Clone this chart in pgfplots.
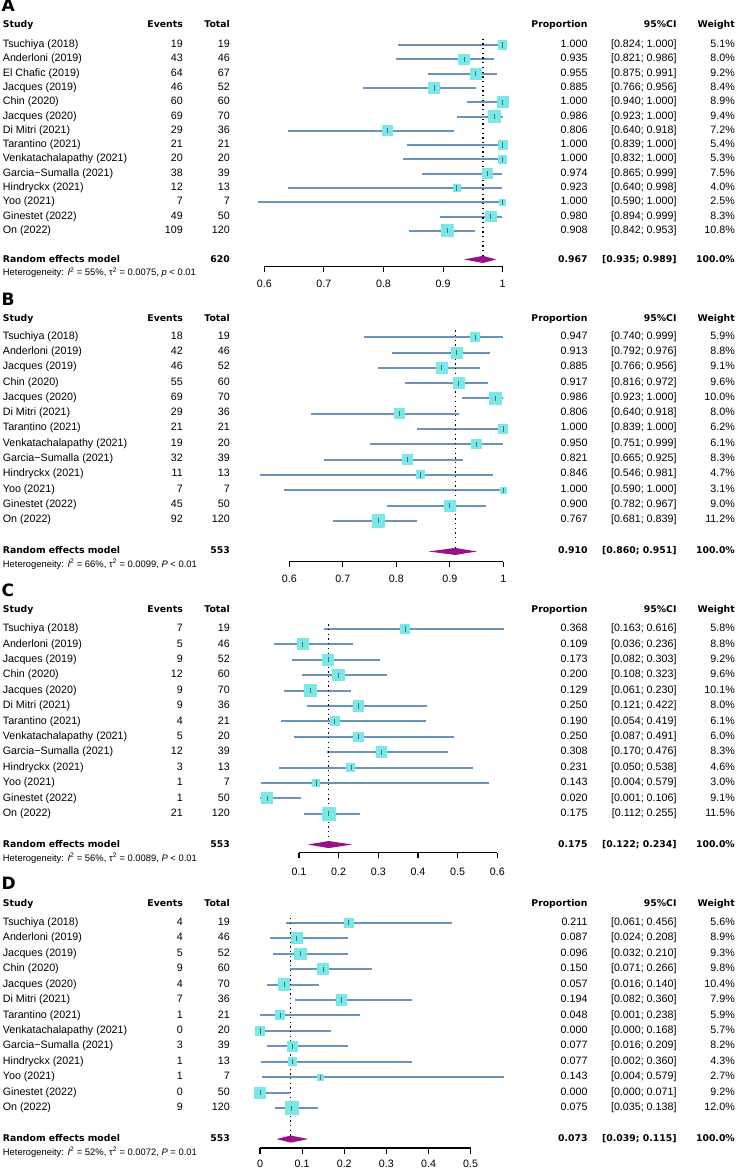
\documentclass[border=0pt]{standalone}
\usepackage{fontspec}
\setmainfont{Liberation Sans}
\newfontfamily\hdfont{DejaVu Sans}
\usepackage{pgfplots}
\pgfplotsset{compat=1.18}
\usepackage{pgfplotstable}

\definecolor{cilc}{RGB}{108,148,186}
\definecolor{sqc}{RGB}{122,232,228}
\definecolor{ptc}{RGB}{78,108,146}
\definecolor{dmc}{RGB}{150,18,140}

\tikzset{
  txt/.style={inner sep=0pt, font=\fontsize{10.7}{12}\selectfont},
  hd/.style={inner sep=0pt, font=\hdfont\bfseries\fontsize{9.3}{11}\selectfont},
  het/.style={inner sep=0pt, font=\fontsize{9.4}{11}\selectfont},
  lett/.style={inner sep=0pt, font=\hdfont\bfseries\fontsize{17}{19}\selectfont},
}

\pgfplotsset{forest/.style={
  clip=false, anchor=south west,
  axis y line=none, axis x line*=bottom,
  x axis line style={-, line width=1.1pt, black},
  tick align=outside, major tick length=5.5pt,
  every tick/.style={black, line width=1.1pt},
  ytick=\empty, minor tick num=0,
  xticklabel style={anchor=north, inner sep=0pt, font=\fontsize{10.7}{12}\selectfont},
  /pgf/number format/assume math mode=true,
}}

\pgfplotstableread{
row est lo hi w
1 1.000 0.824 1.000 5.1
2 0.935 0.821 0.986 8.0
3 0.955 0.875 0.991 9.2
4 0.885 0.766 0.956 8.4
5 1.000 0.940 1.000 8.9
6 0.986 0.923 1.000 9.4
7 0.806 0.640 0.918 7.2
8 1.000 0.839 1.000 5.4
9 1.000 0.832 1.000 5.3
10 0.974 0.865 0.999 7.5
11 0.923 0.640 0.998 4.0
12 1.000 0.590 1.000 2.5
13 0.980 0.894 0.999 8.3
14 0.908 0.842 0.953 10.8
}\dataA

\pgfplotstableread{
row est lo hi w
1 0.947 0.740 0.999 5.9
2 0.913 0.792 0.976 8.8
3 0.885 0.766 0.956 9.1
4 0.917 0.816 0.972 9.6
5 0.986 0.923 1.000 10.0
6 0.806 0.640 0.918 8.0
7 1.000 0.839 1.000 6.2
8 0.950 0.751 0.999 6.1
9 0.821 0.665 0.925 8.3
10 0.846 0.546 0.981 4.7
11 1.000 0.590 1.000 3.1
12 0.900 0.782 0.967 9.0
13 0.767 0.681 0.839 11.2
}\dataB

\pgfplotstableread{
row est lo hi w
1 0.368 0.163 0.616 5.8
2 0.109 0.036 0.236 8.8
3 0.173 0.082 0.303 9.2
4 0.200 0.108 0.323 9.6
5 0.129 0.061 0.230 10.1
6 0.250 0.121 0.422 8.0
7 0.190 0.054 0.419 6.1
8 0.250 0.087 0.491 6.0
9 0.308 0.170 0.476 8.3
10 0.231 0.050 0.538 4.6
11 0.143 0.004 0.579 3.0
12 0.020 0.001 0.106 9.1
13 0.175 0.112 0.255 11.5
}\dataC

\pgfplotstableread{
row est lo hi w
1 0.211 0.061 0.456 5.6
2 0.087 0.024 0.208 8.9
3 0.096 0.032 0.210 9.3
4 0.150 0.071 0.266 9.8
5 0.057 0.016 0.140 10.4
6 0.194 0.082 0.360 7.9
7 0.048 0.001 0.238 5.9
8 0.000 0.000 0.168 5.7
9 0.077 0.016 0.209 8.2
10 0.077 0.002 0.360 4.3
11 0.143 0.004 0.579 2.7
12 0.000 0.000 0.071 9.2
13 0.075 0.035 0.138 12.0
}\dataD

\newcommand\studyplots[1]{%
  \addplot[only marks, scatter, mark=square*,
    mark options={draw=sqc, fill=sqc, line width=0pt},
    scatter/use mapped color={draw=sqc, fill=sqc},
    visualization depends on={1.85*sqrt(\thisrow{w}) \as \msz},
    scatter/@pre marker code/.append style={/tikz/mark size=\msz}]
    table[x=est, y expr=-\thisrow{row}] {#1};
  \addplot[only marks, mark=|, mark size=2.6pt, mark options={ptc, line width=0.9pt},
    error bars/.cd, x dir=both, x explicit, error mark=none,
    error bar style={cilc, line width=2pt}]
    table[x=est, y expr=-\thisrow{row},
      x error plus expr=\thisrow{hi}-\thisrow{est},
      x error minus expr=\thisrow{est}-\thisrow{lo}] {#1};
}

\newcommand\head[3]{%
  \node[lett, anchor=mid west] at (1.5pt,-#2pt) {#1};
  \node[hd, anchor=mid west] at (2.7pt,-#3pt) {Study};
  \node[hd, anchor=mid east] at (183pt,-#3pt) {Events};
  \node[hd, anchor=mid east] at (230pt,-#3pt) {Total};
  \node[hd, anchor=mid east] at (587.7pt,-#3pt) {Proportion};
  \node[hd, anchor=mid east] at (676.7pt,-#3pt) {95\%CI};
  \node[hd, anchor=mid east] at (735pt,-#3pt) {Weight};
}

\newcommand\rows[3]{%
  \foreach \nm/\ev/\tot/\pr/\lo/\hi/\wt [count=\i] in {#3}{%
    \pgfmathsetmacro\yy{-(#1+(\i-1)*#2)}%
    \node[txt, anchor=mid west] at (2.7pt,\yy pt) {\nm};
    \node[txt, anchor=mid east] at (183pt,\yy pt) {\ev};
    \node[txt, anchor=mid east] at (230pt,\yy pt) {\tot};
    \node[txt, anchor=mid east] at (587.7pt,\yy pt) {\pr};
    \node[txt, anchor=mid east] at (676.7pt,\yy pt) {[\lo; \hi]};
    \node[txt, anchor=mid east] at (735pt,\yy pt) {\wt\%};
  }}

\newcommand\sumrow[7]{%
  \node[hd, anchor=mid west] at (2.7pt,-#1pt) {Random effects model};
  \node[hd, anchor=mid east] at (230pt,-#1pt) {#2};
  \node[hd, anchor=mid east] at (587.7pt,-#1pt) {#3};
  \node[hd, anchor=mid east] at (676.7pt,-#1pt) {[#4; #5]};
  \node[hd, anchor=mid east] at (735pt,-#1pt) {100.0\%};
  \node[het, anchor=mid west] at (2.7pt,-#6pt) {#7};
}

\begin{document}
\begin{tikzpicture}
\useasboundingbox (0,0) rectangle (737pt,-1171pt);

% ---------------- Panel A ----------------
\begin{axis}[forest, at={(264.3pt,-266.7pt)}, x=596pt, y=14.29pt,
  xmin=0.6, xmax=1, ymin=-16.51, ymax=0, xtick={0.6,0.7,0.8,0.9,1},
  xticklabel shift=7.5pt]
  \studyplots{\dataA}
  \addplot[black, line width=1.3pt, dash pattern=on 1.3pt off 3.4pt] coordinates {(0.967,-0.55) (0.967,-15.75)};
  \addplot[draw=none, fill=dmc] coordinates {(0.935,-16) (0.967,-15.75) (0.989,-16) (0.967,-16.25)} -- cycle;
\end{axis}
\head{A}{8.5}{25}
\rows{45}{14.29}{Tsuchiya (2018)/19/19/1.000/0.824/1.000/5.1,
Anderloni (2019)/43/46/0.935/0.821/0.986/8.0,
El Chafic (2019)/64/67/0.955/0.875/0.991/9.2,
Jacques (2019)/46/52/0.885/0.766/0.956/8.4,
Chin (2020)/60/60/1.000/0.940/1.000/8.9,
Jacques (2020)/69/70/0.986/0.923/1.000/9.4,
Di Mitri (2021)/29/36/0.806/0.640/0.918/7.2,
Tarantino (2021)/21/21/1.000/0.839/1.000/5.4,
Venkatachalapathy (2021)/20/20/1.000/0.832/1.000/5.3,
Garcia−Sumalla (2021)/38/39/0.974/0.865/0.999/7.5,
Hindryckx (2021)/12/13/0.923/0.640/0.998/4.0,
Yoo (2021)/7/7/1.000/0.590/1.000/2.5,
Ginestet (2022)/49/50/0.980/0.894/0.999/8.3,
On (2022)/109/120/0.908/0.842/0.953/10.8}
\sumrow{259.4}{620}{0.967}{0.935}{0.989}{273.3}{Heterogeneity: \textit{I}\textsuperscript{2} = 55\%, τ\textsuperscript{2} = 0.0075, \textit{p} < 0.01}

% ---------------- Panel B ----------------
\begin{axis}[forest, at={(289.3pt,-561.7pt)}, x=535pt, y=15.3pt,
  xmin=0.6, xmax=1, ymin=-15.67, ymax=0, xtick={0.6,0.7,0.8,0.9,1},
  xticklabel shift=7.5pt]
  \studyplots{\dataB}
  \addplot[black, line width=1.3pt, dash pattern=on 1.3pt off 3.4pt] coordinates {(0.910,-0.55) (0.910,-14.77)};
  \addplot[draw=none, fill=dmc] coordinates {(0.860,-15) (0.910,-14.77) (0.951,-15) (0.910,-15.23)} -- cycle;
\end{axis}
\head{B}{302.5}{318.5}
\rows{336.5}{15.3}{Tsuchiya (2018)/18/19/0.947/0.740/0.999/5.9,
Anderloni (2019)/42/46/0.913/0.792/0.976/8.8,
Jacques (2019)/46/52/0.885/0.766/0.956/9.1,
Chin (2020)/55/60/0.917/0.816/0.972/9.6,
Jacques (2020)/69/70/0.986/0.923/1.000/10.0,
Di Mitri (2021)/29/36/0.806/0.640/0.918/8.0,
Tarantino (2021)/21/21/1.000/0.839/1.000/6.2,
Venkatachalapathy (2021)/19/20/0.950/0.751/0.999/6.1,
Garcia−Sumalla (2021)/32/39/0.821/0.665/0.925/8.3,
Hindryckx (2021)/11/13/0.846/0.546/0.981/4.7,
Yoo (2021)/7/7/1.000/0.590/1.000/3.1,
Ginestet (2022)/45/50/0.900/0.782/0.967/9.0,
On (2022)/92/120/0.767/0.681/0.839/11.2}
\sumrow{550.7}{553}{0.910}{0.860}{0.951}{564.5}{Heterogeneity: \textit{I}\textsuperscript{2} = 66\%, τ\textsuperscript{2} = 0.0099, \textit{P} < 0.01}

% ---------------- Panel C ----------------
\begin{axis}[forest, at={(299pt,-852.7pt)}, x=396.6pt, y=15.4pt,
  xmin=0.1, xmax=0.6, ymin=-15.53, ymax=0, xtick={0.1,0.2,0.3,0.4,0.5,0.6},
  xticklabel shift=10pt]
  \studyplots{\dataC}
  \addplot[black, line width=1.3pt, dash pattern=on 1.3pt off 3.4pt] coordinates {(0.175,-0.7) (0.175,-14.77)};
  \addplot[draw=none, fill=dmc] coordinates {(0.122,-15) (0.175,-14.77) (0.234,-15) (0.175,-15.23)} -- cycle;
\end{axis}
\head{C}{593.5}{610}
\rows{629}{15.4}{Tsuchiya (2018)/7/19/0.368/0.163/0.616/5.8,
Anderloni (2019)/5/46/0.109/0.036/0.236/8.8,
Jacques (2019)/9/52/0.173/0.082/0.303/9.2,
Chin (2020)/12/60/0.200/0.108/0.323/9.6,
Jacques (2020)/9/70/0.129/0.061/0.230/10.1,
Di Mitri (2021)/9/36/0.250/0.121/0.422/8.0,
Tarantino (2021)/4/21/0.190/0.054/0.419/6.1,
Venkatachalapathy (2021)/5/20/0.250/0.087/0.491/6.0,
Garcia−Sumalla (2021)/12/39/0.308/0.170/0.476/8.3,
Hindryckx (2021)/3/13/0.231/0.050/0.538/4.6,
Yoo (2021)/1/7/0.143/0.004/0.579/3.0,
Ginestet (2022)/1/50/0.020/0.001/0.106/9.1,
On (2022)/21/120/0.175/0.112/0.255/11.5}
\sumrow{844.6}{553}{0.175}{0.122}{0.234}{858.5}{Heterogeneity: \textit{I}\textsuperscript{2} = 56\%, τ\textsuperscript{2} = 0.0089, \textit{P} < 0.01}

% ---------------- Panel D ----------------
\begin{axis}[forest, at={(260pt,-1148pt)}, x=421.3pt, y=15.45pt,
  xmin=0, xmax=0.5, ymin=-15.58, ymax=0, xtick={0,0.1,0.2,0.3,0.4,0.5},
  xticklabel shift=6.5pt]
  \studyplots{\dataD}
  \addplot[black, line width=1.3pt, dash pattern=on 1.3pt off 3.4pt] coordinates {(0.073,-0.7) (0.073,-14.77)};
  \addplot[draw=none, fill=dmc] coordinates {(0.039,-15) (0.073,-14.77) (0.115,-15) (0.073,-15.23)} -- cycle;
\end{axis}
\head{D}{887}{903.5}
\rows{922.7}{15.45}{Tsuchiya (2018)/4/19/0.211/0.061/0.456/5.6,
Anderloni (2019)/4/46/0.087/0.024/0.208/8.9,
Jacques (2019)/5/52/0.096/0.032/0.210/9.3,
Chin (2020)/9/60/0.150/0.071/0.266/9.8,
Jacques (2020)/4/70/0.057/0.016/0.140/10.4,
Di Mitri (2021)/7/36/0.194/0.082/0.360/7.9,
Tarantino (2021)/1/21/0.048/0.001/0.238/5.9,
Venkatachalapathy (2021)/0/20/0.000/0.000/0.168/5.7,
Garcia−Sumalla (2021)/3/39/0.077/0.016/0.209/8.2,
Hindryckx (2021)/1/13/0.077/0.002/0.360/4.3,
Yoo (2021)/1/7/0.143/0.004/0.579/2.7,
Ginestet (2022)/0/50/0.000/0.000/0.071/9.2,
On (2022)/9/120/0.075/0.035/0.138/12.0}
\sumrow{1139}{553}{0.073}{0.039}{0.115}{1153}{Heterogeneity: \textit{I}\textsuperscript{2} = 52\%, τ\textsuperscript{2} = 0.0072, \textit{P} = 0.01}

\end{tikzpicture}
\end{document}
